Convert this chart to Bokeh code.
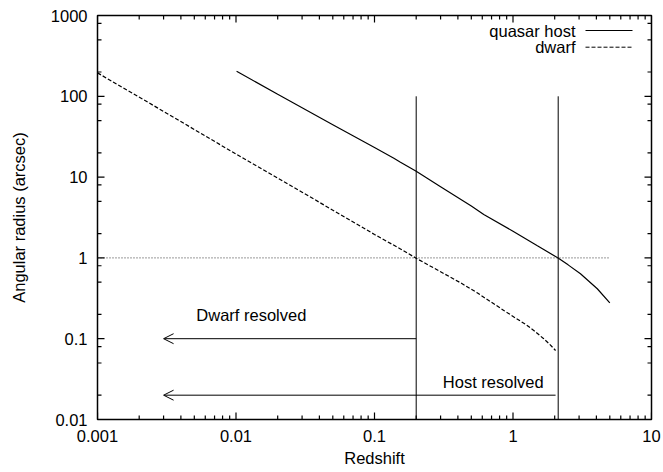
from bokeh.plotting import figure
from bokeh.models import (Range1d, FixedTicker, CustomJSTickFormatter,
                          Label, Arrow, OpenHead)
from bokeh.embed import file_html
from bokeh.resources import INLINE

# ---------------- data ----------------
host_z = [0.0101, 0.02, 0.05, 0.1, 0.138, 0.154, 0.2, 0.3, 0.5, 0.615, 1.0, 1.5, 2.13, 2.5, 3.07, 4.06, 5.0]
host_r = [204, 106, 44.5, 23.2, 17.1, 15.3, 11.8, 7.6, 4.4, 3.45, 2.14, 1.41, 0.99, 0.82, 0.636, 0.415, 0.278]

dwarf_z = [0.001, 0.003, 0.01, 0.03, 0.1, 0.154, 0.2, 0.3, 0.42, 0.551, 0.7, 0.858, 1.05, 1.265, 1.45, 1.667, 1.85, 2.03]
dwarf_r = [195, 65, 19.3, 6.5, 1.95, 1.29, 0.99, 0.674, 0.49, 0.37, 0.282, 0.224, 0.179, 0.146, 0.122, 0.0998, 0.0845, 0.0714]

limit_x = [0.001, 5.0]          # horizontal dotted line at 1 arcsec
limit_y = [1.0, 1.0]

vline_x = [0.2, 2.12]           # vertical markers
vline_y0 = [0.01, 0.01]
vline_y1 = [100, 100]

arrow_y = [0.1, 0.02]
arrow_from = [0.2, 2.03]
arrow_to = [0.003, 0.003]

note_text = ["Dwarf resolved", "Host resolved"]
note_x = [0.0129, 0.72]
note_y = [0.196, 0.0289]

legend_labels = ["quasar host", "dwarf"]

x_major = [0.001, 0.01, 0.1, 1, 10]
x_minor = [m * d for d in [0.001, 0.01, 0.1, 1] for m in range(2, 10)]
y_major = [0.01, 0.1, 1, 10, 100, 1000]
y_minor = [m * d for d in [0.01, 0.1, 1, 10, 100] for m in (2, 5, 8)]

X0, X1 = 0.001, 10
Y0, Y1 = 0.01, 1000

FONT = "Liberation Sans"
FS = "16.5px"

FRAME_W, FRAME_H = 554, 404
p = figure(width=663, height=472, x_axis_type="log", y_axis_type="log",
           x_range=Range1d(X0, X1), y_range=Range1d(Y0, Y1),
           output_backend="svg", toolbar_location=None,
           min_border_left=97, min_border_right=12, min_border_top=15, min_border_bottom=53)
p.background_fill_color = "white"
p.border_fill_color = "white"
p.outline_line_color = "black"
p.outline_line_width = 1.5
p.xgrid.visible = False
p.ygrid.visible = False

fmt = CustomJSTickFormatter(code="return tick.toString()")

for ax in (p.xaxis[0], p.yaxis[0]):
    ax.axis_line_color = None
    ax.major_tick_in = 0
    ax.major_tick_out = 0
    ax.minor_tick_in = 0
    ax.minor_tick_out = 0
    ax.major_tick_line_color = None
    ax.minor_tick_line_color = None
    ax.major_label_text_font = FONT
    ax.major_label_text_font_size = FS
    ax.major_label_text_color = "black"
    ax.axis_label_text_font = FONT
    ax.axis_label_text_font_size = FS
    ax.axis_label_text_font_style = "normal"
    ax.axis_label_text_color = "black"
    ax.formatter = fmt

p.xaxis.ticker = FixedTicker(ticks=x_major, minor_ticks=x_minor)
p.yaxis.ticker = FixedTicker(ticks=y_major, minor_ticks=y_minor)
p.xaxis.axis_label = "Redshift"
p.yaxis.axis_label = "Angular radius (arcsec)"
p.xaxis.major_label_standoff = 10
p.xaxis.axis_label_standoff = 4
p.yaxis.major_label_standoff = 10
p.yaxis.axis_label_standoff = 20

# inward gnuplot-style ticks on all four sides (lengths in px converted to log-factors)
MAJ_LEN, MIN_LEN = 7, 4
dec_x = FRAME_W / 4.0
dec_y = FRAME_H / 5.0
for ticks, ln in ((x_major, MAJ_LEN), (x_minor, MIN_LEN)):
    f = 10 ** (ln / dec_y)
    n = len(ticks)
    p.segment(x0=list(ticks), x1=list(ticks), y0=[Y0] * n, y1=[Y0 * f] * n,
              line_color="black", line_width=1.2)
    p.segment(x0=list(ticks), x1=list(ticks), y0=[Y1] * n, y1=[Y1 / f] * n,
              line_color="black", line_width=1.2)
for ticks, ln in ((y_major, MAJ_LEN), (y_minor, MIN_LEN)):
    f = 10 ** (ln / dec_x)
    n = len(ticks)
    p.segment(y0=list(ticks), y1=list(ticks), x0=[X0] * n, x1=[X0 * f] * n,
              line_color="black", line_width=1.2)
    p.segment(y0=list(ticks), y1=list(ticks), x0=[X1] * n, x1=[X1 / f] * n,
              line_color="black", line_width=1.2)

# curves
p.line(host_z, host_r, line_color="black", line_width=1.2)
p.line(dwarf_z, dwarf_r, line_color="black", line_width=1.2, line_dash="4 2")

# dotted limit
p.line(limit_x, limit_y, line_color="#333333", line_width=1, line_dash="1 2")

# vertical markers
p.segment(x0=vline_x, y0=vline_y0, x1=vline_x, y1=vline_y1, line_color="black", line_width=1)

# arrows
for yv, x0, x1 in zip(arrow_y, arrow_from, arrow_to):
    p.add_layout(Arrow(x_start=x0, y_start=yv, x_end=x1, y_end=yv,
                       line_color="black", line_width=1,
                       end=OpenHead(size=10, line_color="black", line_width=1)))

# notes
for t, xv, yv in zip(note_text, note_x, note_y):
    p.add_layout(Label(x=xv, y=yv, text=t, text_font=FONT, text_font_size=FS,
                       text_align="center", text_baseline="middle", text_color="black"))

# gnuplot-style legend (label left, sample right)
leg_rows = [389, 372.3]
leg_dash = [None, "4 2"]
for lab, yy, dash in zip(legend_labels, leg_rows, leg_dash):
    p.add_layout(Label(x=478, y=yy, x_units="screen", y_units="screen", text=lab,
                       text_font=FONT, text_font_size=FS, text_align="right",
                       text_baseline="middle", text_color="black"))
    kw = dict(line_dash=dash) if dash else {}
    p.add_layout(Arrow(x_start=488, y_start=yy, x_end=535, y_end=yy,
                       start_units="screen", end_units="screen", end=None,
                       line_color="black", line_width=1, **kw))

open("out.html", "w").write(file_html(p, INLINE))
